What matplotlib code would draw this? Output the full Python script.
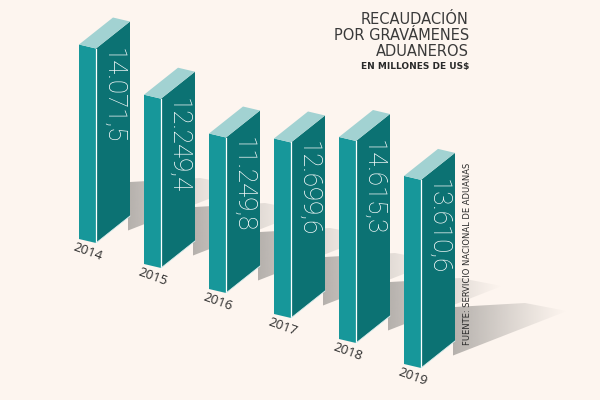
import numpy as np
import matplotlib
matplotlib.use('Agg')
from matplotlib import pyplot as plt
from matplotlib.patches import Polygon

# datos: recaudación por gravámenes aduaneros (millones de US$)
anios = ['2014', '2015', '2016', '2017', '2018', '2019']
valores = [14071.5, 12249.4, 11249.8, 12699.6, 14615.3, 13610.6]
etiquetas = ['14.071,5', '12.249,4', '11.249,8', '12.699,6', '14.615,3', '13.610,6']

titulo = ['RECAUDACIÓN', 'POR GRAVÁMENES', 'ADUANEROS']
subtitulo = 'EN MILLONES DE US$'
fuente = 'FUENTE: SERVICIO NACIONAL DE ADUANAS'

fondo = '#fdf5ef'
c_frente = '#17979a'
c_lado = '#0c7273'
c_tapa = '#a2d2d2'

# geometría "3D" en pixeles
x0, y0 = 79, 239        # esquina inferior izquierda de la primera barra
paso_x, paso_y = 65, 25
fw, fd = 17, 4          # ancho y caída de la cara frontal
dx, dr = 34, 27         # profundidad y subida de la cara lateral
k = 202 / max(valores)  # pixeles por millón

fig = plt.figure(figsize=(6, 4), dpi=100, facecolor=fondo)
ax = fig.add_axes([0, 0, 1, 1])
ax.set_xlim(0, 600)
ax.set_ylim(400, 0)
ax.axis('off')
ax.set_facecolor(fondo)

# degradado para sombras
grad = np.zeros((1, 256, 4))
grad[0, :, :3] = matplotlib.colors.to_rgb('#aca8a4')
grad[0, :, 3] = np.linspace(0.9, 0.0, 256) ** 1.1

for i, (anio, v, lab) in enumerate(zip(anios, valores, etiquetas)):
    bx = x0 + paso_x * i
    by = y0 + paso_y * i
    h = v * k

    # sombra detrás de la barra
    ax_, ay_ = bx + fw, by + fd            # pie de la arista frontal
    rx, ry = bx + fw + dx, by + fd - dr    # pie de la arista trasera
    pts = [(ax_, ay_), (rx, ry - 34), (rx + 70, ry - 38), (rx + 112, ry - 30)]
    sombra = Polygon(pts, closed=True, facecolor='none', edgecolor='none')
    ax.add_patch(sombra)
    im = ax.imshow(grad, extent=(rx - 2, rx + 112, ay_, ry - 40), aspect='auto',
                   interpolation='bilinear', zorder=1)
    im.set_clip_path(sombra)

    # cara frontal
    frente = [(bx, by), (bx + fw, by + fd), (bx + fw, by + fd - h), (bx, by - h)]
    ax.add_patch(Polygon(frente, closed=True, facecolor=c_frente, edgecolor='none', zorder=2))
    # cara lateral
    lado = [(bx + fw, by + fd), (rx, ry), (rx, ry - h), (bx + fw, by + fd - h)]
    ax.add_patch(Polygon(lado, closed=True, facecolor=c_lado, edgecolor='none', zorder=2))
    # tapa
    tapa = [(bx, by - h), (bx + fw, by + fd - h), (rx, ry - h), (bx + dx, by - dr - h)]
    ax.add_patch(Polygon(tapa, closed=True, facecolor=c_tapa, edgecolor='none', zorder=2))
    # aristas claras
    ax.plot([bx + fw, bx + fw], [by + fd, by + fd - h], color='white', lw=0.9, zorder=3)
    ax.plot([bx + fw, rx], [by + fd, ry], color='#d8eeee', lw=0.6, zorder=3)

    # valor
    ax.text(bx + fw + dx / 2, by - h + 3, lab, rotation=-90, ha='center', va='top',
            color='white', fontsize=18.5, family='Roboto', fontweight='light', zorder=4)
    # año
    ax.text(bx + 9, by + 13, anio, rotation=-20, ha='center', va='center',
            color='#2b2b2b', fontsize=9.5, family='Open Sans', zorder=4)

# título
for j, linea in enumerate(titulo):
    ax.text(469, 19 + 16 * j, linea, ha='right', va='center', color='#3a3a3a',
            fontsize=10.5, family='Liberation Sans Narrow')
ax.text(469, 66, subtitulo, ha='right', va='center', color='#2a2a2a',
        fontsize=6.5, family='Liberation Sans Narrow', fontweight='bold')

ax.text(468, 254, fuente, rotation=90, ha='center', va='center', color='#2a2a2a',
        fontsize=6, family='Liberation Sans Narrow')

fig.savefig('out.png', dpi=100, facecolor=fondo)
